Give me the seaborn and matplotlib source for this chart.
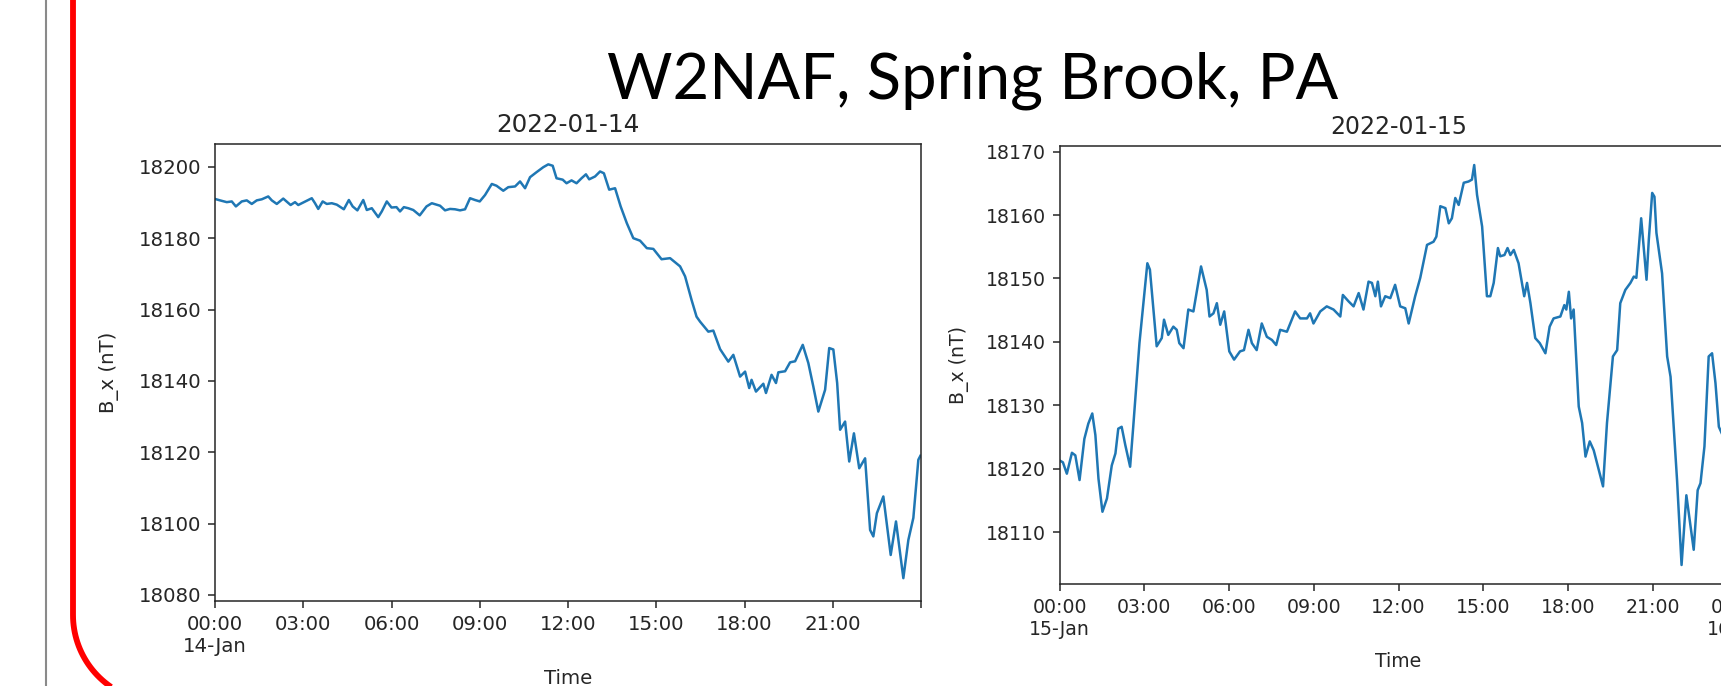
import numpy as np
import pandas as pd
import seaborn as sns
import matplotlib.pyplot as plt
import matplotlib.dates as mdates
from matplotlib.path import Path
from matplotlib.patches import PathPatch
from matplotlib.ticker import MultipleLocator, FuncFormatter

# W2NAF magnetometer, B_x component (hours since midnight, nT)
day1_hours = [0.0, 0.17, 0.4, 0.57, 0.71, 0.91, 1.08, 1.25, 1.42, 1.59, 1.81, 1.93, 2.1, 2.32, 2.57, 2.72,
              2.83, 3.0, 3.17, 3.29, 3.4, 3.51, 3.66, 3.8, 3.97, 4.14, 4.38, 4.55, 4.68, 4.84, 5.04, 5.16,
              5.33, 5.55, 5.67, 5.84, 6.0, 6.17, 6.29, 6.42, 6.57, 6.74, 6.96, 7.19, 7.37, 7.65, 7.82, 7.99,
              8.16, 8.33, 8.5, 8.67, 8.84, 9.0, 9.18, 9.41, 9.57, 9.8, 9.97, 10.2, 10.37, 10.54, 10.71, 10.93,
              11.16, 11.33, 11.48, 11.61, 11.82, 11.95, 12.12, 12.29, 12.46, 12.61, 12.72, 12.92, 13.09, 13.22,
              13.4, 13.6, 13.79, 14.0, 14.22, 14.45, 14.68, 14.9, 15.18, 15.47, 15.81, 15.98, 16.2, 16.37,
              16.49, 16.77, 16.94, 17.17, 17.45, 17.62, 17.85, 18.02, 18.16, 18.24, 18.39, 18.64, 18.73, 18.92,
              19.07, 19.15, 19.38, 19.55, 19.72, 19.98, 20.17, 20.34, 20.51, 20.74, 20.88, 21.02, 21.15, 21.25,
              21.42, 21.56, 21.72, 21.9, 22.1, 22.27, 22.38, 22.5, 22.72, 22.97, 23.15, 23.4, 23.57, 23.74,
              23.91, 23.98]
day1_bx = [18191.0, 18190.6, 18190.1, 18190.3, 18188.9, 18190.3, 18190.6, 18189.6, 18190.6, 18190.9,
           18191.7, 18190.6, 18189.6, 18191.1, 18189.3, 18190.1, 18189.3, 18190.0, 18190.7, 18191.2,
           18189.8, 18188.2, 18190.3, 18189.6, 18189.8, 18189.4, 18188.1, 18190.7, 18188.9, 18187.8,
           18190.7, 18187.9, 18188.4, 18185.9, 18187.5, 18190.3, 18188.6, 18188.7, 18187.5, 18188.7,
           18188.4, 18187.9, 18186.4, 18188.9, 18189.8, 18189.1, 18187.8, 18188.2, 18188.1, 18187.8,
           18188.1, 18191.2, 18190.7, 18190.3, 18192.1, 18195.2, 18194.7, 18193.3, 18194.3, 18194.5,
           18195.9, 18194.0, 18197.1, 18198.5, 18199.9, 18200.7, 18200.3, 18196.8, 18196.4, 18195.4,
           18196.2, 18195.4, 18196.8, 18197.9, 18196.5, 18197.3, 18198.7, 18198.2, 18193.6, 18194.0,
           18188.9, 18184.2, 18180.0, 18179.3, 18177.2, 18177.0, 18174.1, 18174.4, 18172.1, 18169.3,
           18162.7, 18158.0, 18156.6, 18153.8, 18154.1, 18148.9, 18145.4, 18147.3, 18141.2, 18142.6,
           18138.0, 18140.3, 18137.0, 18139.2, 18136.6, 18141.7, 18139.4, 18142.4, 18142.7, 18145.2,
           18145.5, 18150.1, 18145.0, 18138.4, 18131.4, 18137.5, 18149.2, 18148.8, 18139.4, 18126.3,
           18128.6, 18117.4, 18125.3, 18115.5, 18118.3, 18098.2, 18096.4, 18102.9, 18107.6, 18091.2,
           18100.6, 18084.7, 18095.4, 18101.6, 18117.9, 18119.0]

day2_hours = [0.0, 0.12, 0.26, 0.44, 0.56, 0.71, 0.88, 1.02, 1.16, 1.27, 1.38, 1.52, 1.68, 1.85, 1.98,
              2.08, 2.2, 2.33, 2.5, 2.61, 2.83, 2.97, 3.11, 3.2, 3.44, 3.62, 3.7, 3.85, 4.03, 4.15, 4.24,
              4.39, 4.56, 4.74, 5.01, 5.21, 5.31, 5.45, 5.57, 5.69, 5.83, 6.01, 6.18, 6.39, 6.53, 6.69,
              6.81, 6.98, 7.16, 7.34, 7.52, 7.67, 7.81, 8.05, 8.34, 8.52, 8.76, 8.87, 8.99, 9.23, 9.46,
              9.7, 9.94, 10.03, 10.23, 10.41, 10.59, 10.76, 10.94, 11.06, 11.18, 11.27, 11.38, 11.53,
              11.71, 11.88, 12.06, 12.24, 12.36, 12.59, 12.77, 13.01, 13.24, 13.34, 13.48, 13.66, 13.78,
              13.89, 14.01, 14.13, 14.31, 14.48, 14.6, 14.68, 14.78, 14.96, 15.13, 15.25, 15.37, 15.52,
              15.6, 15.75, 15.86, 15.96, 16.08, 16.25, 16.45, 16.55, 16.67, 16.84, 17.0, 17.2, 17.35,
              17.49, 17.73, 17.87, 17.94, 18.03, 18.11, 18.2, 18.38, 18.5, 18.62, 18.77, 18.91, 19.09,
              19.24, 19.38, 19.59, 19.74, 19.85, 20.03, 20.21, 20.33, 20.42, 20.59, 20.78, 20.86, 20.98,
              21.06, 21.13, 21.33, 21.51, 21.63, 21.86, 22.02, 22.19, 22.45, 22.59, 22.69, 22.83, 22.98,
              23.1, 23.22, 23.34, 23.45]
day2_bx = [18121.3, 18121.0, 18119.2, 18122.5, 18122.1, 18118.2, 18124.7, 18127.1, 18128.7, 18125.3,
           18118.4, 18113.2, 18115.3, 18120.5, 18122.4, 18126.3, 18126.6, 18123.7, 18120.3, 18126.6,
           18139.8, 18146.1, 18152.4, 18151.4, 18139.3, 18140.6, 18143.5, 18141.1, 18142.4, 18141.9,
           18139.8, 18139.0, 18145.1, 18144.8, 18151.9, 18148.2, 18144.0, 18144.5, 18146.1, 18142.7,
           18144.8, 18138.5, 18137.2, 18138.5, 18138.7, 18141.9, 18139.8, 18138.7, 18142.9, 18140.8,
           18140.3, 18139.5, 18141.9, 18141.6, 18144.8, 18143.7, 18143.7, 18144.5, 18142.9, 18144.8,
           18145.6, 18145.1, 18144.0, 18147.4, 18146.4, 18145.6, 18147.7, 18145.1, 18149.5, 18149.3,
           18147.2, 18149.5, 18145.6, 18147.2, 18146.9, 18149.0, 18145.6, 18145.3, 18142.9, 18147.2,
           18150.1, 18155.3, 18155.8, 18156.6, 18161.4, 18161.1, 18158.7, 18159.5, 18162.7, 18161.6,
           18165.1, 18165.3, 18165.6, 18167.9, 18163.2, 18158.2, 18147.2, 18147.2, 18149.3, 18154.8,
           18153.5, 18153.7, 18154.8, 18153.7, 18154.5, 18152.4, 18147.2, 18149.3, 18146.1, 18140.6,
           18139.8, 18138.2, 18142.4, 18143.7, 18144.0, 18145.8, 18145.1, 18147.9, 18143.7, 18145.1,
           18129.8, 18127.2, 18121.9, 18124.3, 18122.9, 18119.8, 18117.2, 18127.2, 18137.7, 18138.7,
           18146.1, 18148.2, 18149.3, 18150.3, 18150.1, 18159.5, 18149.8, 18156.1, 18163.5, 18162.9,
           18157.2, 18150.8, 18137.7, 18134.5, 18118.2, 18104.8, 18115.8, 18107.2, 18116.6, 18117.7,
           18123.5, 18137.7, 18138.2, 18133.5, 18126.6, 18125.5]

day_titles = ['2022-01-14', '2022-01-15']
day_starts = ['2022-01-14', '2022-01-15']

W, H = 1721, 686
fig = plt.figure(figsize=(W / 100, H / 100), dpi=100)

# slide decoration: grey margin line and red rounded frame (pixel coords)
bg = fig.add_axes([0, 0, 1, 1], zorder=0)
bg.set_xlim(0, W)
bg.set_ylim(H, 0)
bg.axis('off')
bg.plot([46, 46], [0, H], color='#8a8a8a', lw=1.5, clip_on=False)
r, x0, yc = 87, 73, 615
ang = np.linspace(np.pi, np.pi / 2, 40)
arc = np.column_stack([x0 + r + r * np.cos(ang), yc + r * np.sin(ang)])
verts = np.vstack([[x0, -20], arc, [2000, yc + r]])
bg.add_patch(PathPatch(Path(verts), fill=False, ec='#ff0000', lw=4.2, clip_on=False,
                       capstyle='butt', joinstyle='round'))
fig.text(973 / W, 1 - 98 / H, 'W2NAF, Spring Brook, PA', ha='center', va='baseline',
         fontsize=45.5, family='Lato', weight='normal', color='black')


def make_fmt(hide_day):
    def f(x, pos):
        d = mdates.num2date(x)
        if d.hour == 0 and d.minute == 0:
            if d.day == hide_day:
                return ''
            return d.strftime('%H:%M\n%d-%b')
        return d.strftime('%H:%M')
    return f


specs = [
    dict(rect=[215 / W, 85 / H, 706 / W, 457 / H], ylim=(18078.3, 18206.4), step=20, fs=14.2,
         hide=15, xpad=10, ypad=14),
    dict(rect=[1059.5 / W, 102 / H, 678 / W, 438 / H], ylim=(18101.8, 18170.9), step=10, fs=13.6,
         hide=None, xpad=9.5, ypad=12),
]
series = [(day1_hours, day1_bx), (day2_hours, day2_bx)]

for i, sp in enumerate(specs):
    ax = fig.add_axes(sp['rect'], zorder=2)
    hrs, vals = series[i]
    t0 = pd.Timestamp(day_starts[i])
    df = pd.DataFrame({'Time': t0 + pd.to_timedelta(hrs, unit='h'), 'B_x (nT)': vals})
    sns.lineplot(data=df, x='Time', y='B_x (nT)', ax=ax, color='#1f77b4', lw=1.8)
    ax.set_xlim(t0, t0 + pd.Timedelta(hours=24))
    ax.set_ylim(*sp['ylim'])
    ax.yaxis.set_major_locator(MultipleLocator(sp['step']))
    ax.xaxis.set_major_locator(mdates.HourLocator(byhour=range(0, 24, 3)))
    ax.xaxis.set_major_formatter(FuncFormatter(make_fmt(sp['hide'])))
    fs = sp['fs']
    ax.tick_params(labelsize=fs, length=4.9, width=1.1, pad=4.9, colors='#262626', labelcolor='#262626')
    for s in ax.spines.values():
        s.set_linewidth(1.1)
        s.set_color('#262626')
    ax.set_xlabel('Time', fontsize=fs, labelpad=sp['xpad'], color='#262626')
    ax.set_ylabel('B_x (nT)', fontsize=fs, labelpad=sp['ypad'], color='#262626')
    ax.set_title(day_titles[i], fontsize=fs * 1.25, pad=8.5, color='#262626')

fig.savefig('out.png', dpi=100, facecolor='white')
